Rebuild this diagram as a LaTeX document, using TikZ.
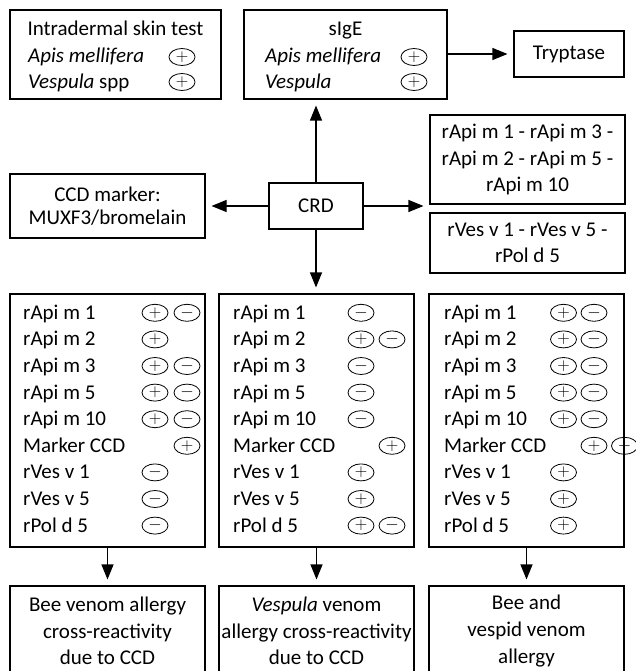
\documentclass[tikz,border=0pt]{standalone}
\usepackage{fontspec}
\setmainfont{Carlito}
\usetikzlibrary{shapes.geometric,arrows.meta}

\begin{document}
\begin{tikzpicture}[x=1pt,y=-1pt,
  font=\fontsize{21}{26.6}\selectfont,
  box/.style={draw, line width=1.1pt, inner sep=0pt, align=center},
  row/.style={anchor=base west, inner sep=0pt},
  sign/.style={draw, ellipse, line width=0.8pt, minimum width=26, minimum height=17, inner sep=0pt, font=\fontsize{17}{17}\selectfont},
  arr/.style={line width=1.1pt, -{Triangle[length=15pt,width=12pt]}, shorten >=6pt}]
\clip (0,0) rectangle (636,671);
\node[box, minimum width=211, minimum height=89] (skin) at (115.5,54.5) {};
\node[anchor=base, inner sep=0pt] (skintitle) at (115.5,36) {Intradermal skin test};
\node[row] (skinapis) at (28,63) {\textit{Apis mellifera}};
\node[row] (skinves) at (28,89) {\textit{Vespula} spp};
\node[sign] (skinapisp) at (182,57) {$+$};
\node[sign] (skinvesp) at (182,82) {$+$};
\node[box, minimum width=203, minimum height=89] (sige) at (345.5,54.5) {};
\node[anchor=base, inner sep=0pt] (sigetitle) at (345.5,36) {sIgE};
\node[row] (sigeapis) at (265,63) {\textit{Apis mellifera}};
\node[row] (sigeves) at (265,89) {\textit{Vespula}};
\node[sign] (sigeapisp) at (414,57) {$+$};
\node[sign] (sigevesp) at (414,82) {$+$};
\node[box, minimum width=110, minimum height=46] (tryptase) at (569,54) {Tryptase};
\node[box, minimum width=195, minimum height=89] (rapi) at (527.5,159.5) {rApi m 1 - rApi m 3 -\\rApi m 2 - rApi m 5 -\\rApi m 10};
\node[box, minimum width=195, minimum height=60] (rves) at (527.5,243) {rVes v 1 - rVes v 5 -\\rPol d 5};
\node[box, minimum width=195, minimum height=64, font=\fontsize{21}{23}\selectfont] (ccd) at (107.5,206) {CCD marker:\\MUXF3/bromelain};
\node[box, minimum width=94, minimum height=46] (crd) at (316,206) {CRD};
\node[box, minimum width=195, minimum height=253] (colbee) at (107.5,420.5) {};
\node[box, minimum width=195, minimum height=253] (colves) at (316.5,420.5) {};
\node[box, minimum width=195, minimum height=253] (colboth) at (526.5,420.5) {};
\foreach \lab [count=\i] in {rApi m 1,rApi m 2,rApi m 3,rApi m 5,rApi m 10,Marker CCD,rVes v 1,rVes v 5,rPol d 5} {
  \node[row] (bee-\i) at (23,{292.7+\i*26.6}) {\lab};
  \node[row] (ves-\i) at (233,{292.7+\i*26.6}) {\lab};
  \node[row] (both-\i) at (444,{292.7+\i*26.6}) {\lab};
}
\foreach \r/\p/\s in {1/1/+,1/2/-,2/1/+,3/1/+,3/2/-,4/1/+,4/2/-,5/1/+,5/2/-,6/2/+,7/1/-,8/1/-,9/1/-}
  \node[sign] (sbee-\r-\p) at ({123+\p*32},{286.2+\r*26.6}) {$\s$};
\foreach \r/\p/\s in {1/1/-,2/1/+,2/2/-,3/1/-,4/1/-,5/1/-,6/2/+,7/1/+,8/1/+,9/1/+,9/2/-}
  \node[sign] (sves-\r-\p) at ({330+\p*31},{286.2+\r*26.6}) {$\s$};
\foreach \r/\p/\s in {1/1/+,1/2/-,2/1/+,2/2/-,3/1/+,3/2/-,4/1/+,4/2/-,5/1/+,5/2/-,6/2/+,6/3/-,7/1/+,8/1/+,9/1/+}
  \node[sign] (sboth-\r-\p) at ({533+\p*30.5},{286.2+\r*26.6}) {$\s$};
\node[box, minimum width=195, minimum height=90] (resbee) at (107.5,631) {Bee venom allergy\\cross-reactivity\\due to CCD};
\node[box, minimum width=195, minimum height=90] (resves) at (316.5,631) {\textit{Vespula} venom\\allergy cross-reactivity\\due to CCD};
\node[box, minimum width=195, minimum height=90] (resboth) at (526.5,631) {Bee and\\vespid venom\\allergy};
\draw[arr] (sige.east |- tryptase.west) -- (tryptase.west);
\draw[arr] (crd.north) -- (crd.north |- sige.south);
\draw[arr] (crd.west) -- (ccd.east);
\draw[arr] (crd.east) -- (crd.east -| rapi.west);
\draw[arr] (crd.south) -- (crd.south |- colves.north);
\draw[arr] (colbee.south) -- (resbee.north);
\draw[arr] (colves.south) -- (resves.north);
\draw[arr] (colboth.south) -- (resboth.north);
\end{tikzpicture}
\end{document}
